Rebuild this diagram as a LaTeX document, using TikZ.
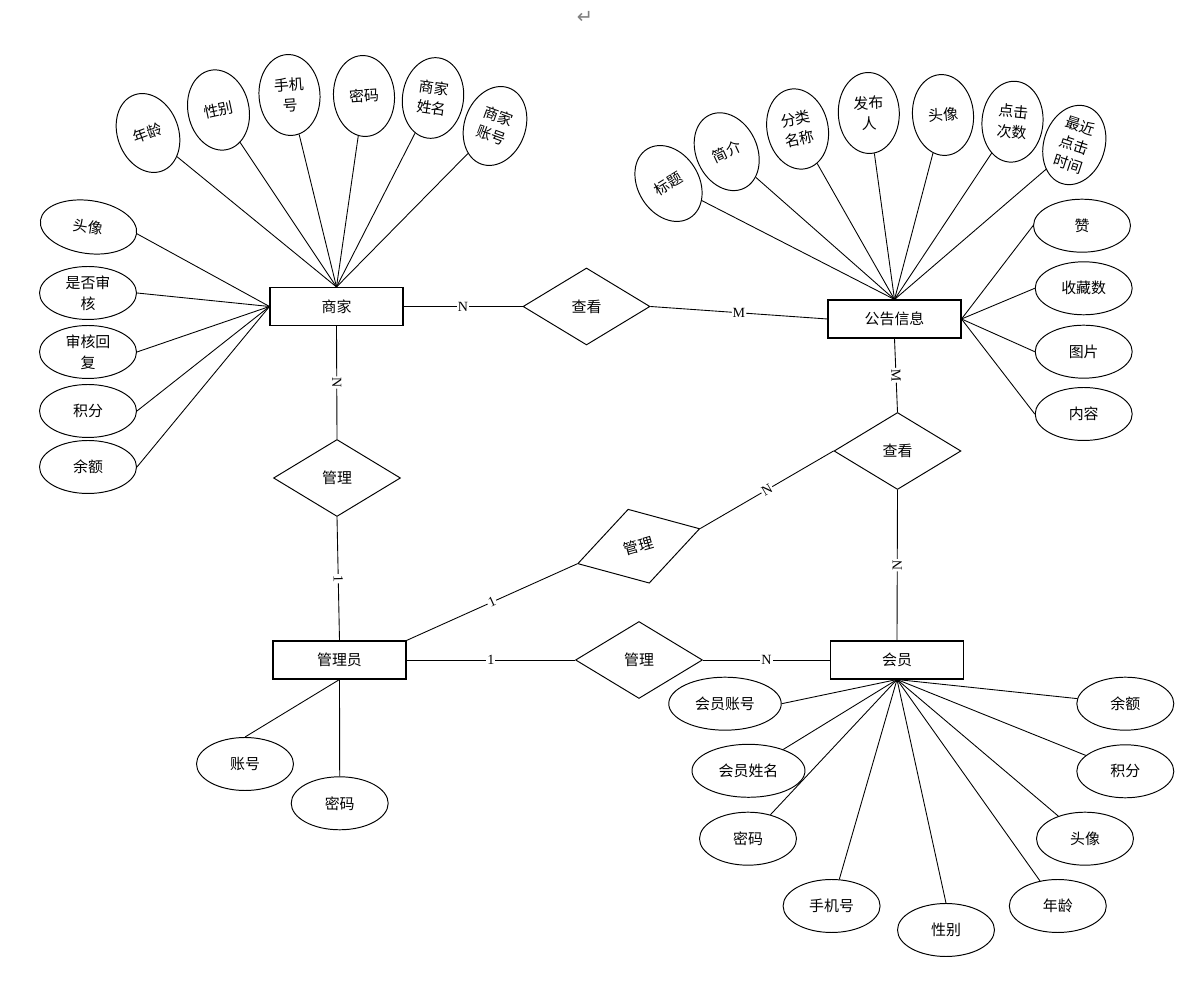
\documentclass[tikz,border=0pt]{standalone}
\usepackage{fontspec}
\setmainfont{Noto Sans CJK SC}
\newfontfamily\cardfont{Liberation Serif}
\newfontfamily\symfont{DejaVu Sans}
\usetikzlibrary{shapes.geometric}

\tikzset{
  entity/.style={draw, line width=0.6pt, minimum width=2.66cm, minimum height=0.76cm, inner sep=0pt, font=\fontsize{8.5}{10}\selectfont},
  rel/.style={draw, diamond, line width=0.55pt, minimum width=2.54cm, minimum height=1.54cm, inner sep=0pt, font=\fontsize{8.5}{10}\selectfont},
  attr/.style={draw, ellipse, line width=0.55pt, minimum width=1.94cm, minimum height=1.06cm, inner sep=0pt, align=center, font=\fontsize{8.5}{12}\selectfont},
  tall/.style={attr, minimum width=1.22cm, minimum height=1.62cm, font=\fontsize{8.5}{11.5}\selectfont},
  card/.style={fill=white, inner sep=0.6pt, font=\cardfont\fontsize{8}{8}\selectfont},
  link/.style={line width=0.5pt}
}

\begin{document}
\begin{tikzpicture}[x=0.02cm,y=-0.02cm]
\path[use as bounding box] (0,0) rectangle (1188,982);
\node[text=gray] (mark) at (585,17) {\symfont\fontsize{11}{12}\selectfont ↵};

% entities
\node[entity] (shop) at (336.5,306.5) {商家};
\node[entity] (notice) at (894.5,319) {公告信息};
\node[entity] (admin) at (339.5,660) {管理员};
\node[entity] (member) at (897,660) {会员};

% relations
\node[rel] (viewA) at (586.5,306.5) {查看};
\node[rel] (viewB) at (897.5,451) {查看};
\node[rel] (manageA) at (337,478) {管理};
\node[rel, rotate=16] (manageB) at (638.7,546.2) {管理};
\node[rel] (manageC) at (639,660) {管理};

% shop attributes
\node[tall, rotate=20] (sAge) at (148,133) {年龄};
\node[tall, rotate=12] (sSex) at (218.5,110) {性别};
\node[tall, rotate=4] (sPhone) at (289.5,95) {手机\\号};
\node[tall, rotate=4] (sPwd) at (364,96) {密码};
\node[tall, rotate=-8] (sName) at (433,98) {商家\\姓名};
\node[tall, rotate=-20] (sAcct) at (495,126) {商家\\账号};
\node[attr, rotate=-8] (sHead) at (88.5,227) {头像};
\node[attr] (sAudit) at (88,293) {是否审\\核};
\node[attr] (sReply) at (88,352) {审核回\\复};
\node[attr] (sPoint) at (88,411) {积分};
\node[attr] (sMoney) at (88,467) {余额};

% notice attributes
\node[tall, rotate=32] (nTitle) at (668.5,183.5) {标题};
\node[tall, rotate=25] (nIntro) at (726.7,151.7) {简介};
\node[tall, rotate=12] (nCat) at (797.6,129) {分类\\名称};
\node[tall, rotate=2] (nAuthor) at (868.8,113) {发布\\人};
\node[tall, rotate=5] (nHead) at (943,115) {头像};
\node[tall, rotate=-5] (nClick) at (1012.5,121.7) {点击\\次数};
\node[tall, rotate=-18] (nLast) at (1074.3,145) {最近\\点击\\时间};
\node[attr] (nLike) at (1082,225.7) {赞};
\node[attr] (nFav) at (1083.7,288.3) {收藏数};
\node[attr] (nPic) at (1083.7,351.7) {图片};
\node[attr] (nText) at (1083.7,414) {内容};

% admin attributes
\node[attr] (aAcct) at (245,764) {账号};
\node[attr] (aPwd) at (339.7,803.3) {密码};

% member attributes
\node[attr, minimum width=2.25cm] (mAcct) at (725,703.7) {会员账号};
\node[attr, minimum width=2.26cm] (mName) at (748.5,770.8) {会员姓名};
\node[attr] (mPwd) at (748,838.7) {密码};
\node[attr] (mPhone) at (831.6,906) {手机号};
\node[attr] (mSex) at (946,930) {性别};
\node[attr] (mAge) at (1057.8,906) {年龄};
\node[attr] (mHead) at (1085,838.7) {头像};
\node[attr] (mPoint) at (1125.3,771.3) {积分};
\node[attr] (mMoney) at (1125.3,703.7) {余额};

% attribute links
\draw[link] (sAge) -- (shop.north);
\draw[link] (sSex) -- (shop.north);
\draw[link] (sPhone) -- (shop.north);
\draw[link] (sPwd) -- (shop.north);
\draw[link] (sName) -- (shop.north);
\draw[link] (sAcct) -- (shop.north);
\draw[link] (sHead.east) -- (shop.west);
\draw[link] (sAudit.east) -- (shop.west);
\draw[link] (sReply.east) -- (shop.west);
\draw[link] (sPoint.east) -- (shop.west);
\draw[link] (sMoney.east) -- (shop.west);

\draw[link] (nTitle) -- (notice.north);
\draw[link] (nIntro) -- (notice.north);
\draw[link] (nCat) -- (notice.north);
\draw[link] (nAuthor) -- (notice.north);
\draw[link] (nHead) -- (notice.north);
\draw[link] (nClick) -- (notice.north);
\draw[link] (nLast) -- (notice.north);
\draw[link] (notice.east) -- (nLike.west);
\draw[link] (notice.east) -- (nFav.west);
\draw[link] (notice.east) -- (nPic.west);
\draw[link] (notice.east) -- (nText.west);

\draw[link] (admin.south) -- (aAcct.north);
\draw[link] (admin.south) -- (aPwd.north);

\draw[link] (member.south) -- (mAcct.east);
\draw[link] (member.south) -- (mName);
\draw[link] (member.south) -- (mPwd);
\draw[link] (member.south) -- (mPhone);
\draw[link] (member.south) -- (mSex.north);
\draw[link] (member.south) -- (mAge);
\draw[link] (member.south) -- (mHead);
\draw[link] (member.south) -- (mPoint);
\draw[link] (member.south) -- (mMoney);

% relation links
\draw[link] (shop.east) -- node[card] {N} (viewA.west);
\draw[link] (viewA.east) -- node[card] {M} (notice.west);
\draw[link] (shop.south) -- node[card, sloped] {N} (manageA.north);
\draw[link] (manageA.south) -- node[card, sloped] {1} (admin.north);
\draw[link] (notice.south) -- node[card, sloped] {M} (viewB.north);
\draw[link] (viewB.south) -- node[card, sloped] {N} (member.north);
\draw[link] (admin.north east) -- node[card, sloped] {1} (manageB.west);
\draw[link] (manageB.east) -- node[card, sloped] {N} (viewB.west);
\draw[link] (admin.east) -- node[card] {1} (manageC.west);
\draw[link] (manageC.east) -- node[card] {N} (member.west);
\end{tikzpicture}
\end{document}
